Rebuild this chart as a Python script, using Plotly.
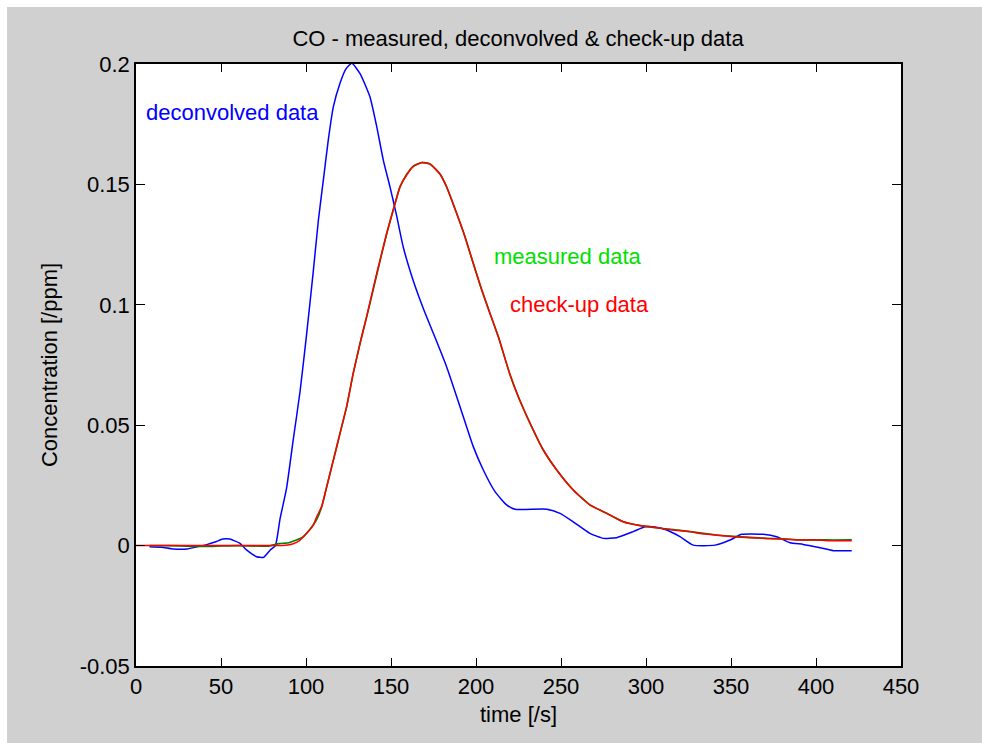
import plotly.graph_objects as go

# ---- data ----
deconv_t = [8, 15, 22, 30, 36, 42, 47, 51, 55, 61, 65, 71, 75, 79, 82, 84.7, 88.6, 92.5, 96.5,
            100.4, 104.3, 107.3, 110.2, 113.1, 116.1, 120, 123.5, 127, 131.8, 137.6,
            141.6, 145.5, 149.4, 153.3, 157.2, 163.1, 169, 174.9, 182.7, 190.6, 198.4, 204.3,
            211.2, 218, 222.9, 241.6, 249.4, 257.2, 267, 274.9, 282.7, 292.5, 299.4, 304.3,
            312.2, 320, 327.8, 340.6, 349.4, 356.3, 369, 376.9, 384.7, 392.5, 402.4, 410.2, 421]
deconv_y = [-0.0005, -0.0007, -0.0014, -0.0014, -0.0005, 0.0005, 0.0016, 0.0027, 0.0027, 0.001,
            -0.0018, -0.0046, -0.0049, -0.0018, 0.0, 0.011, 0.024, 0.044, 0.064,
            0.088, 0.114, 0.1352, 0.1518, 0.1684, 0.1823, 0.192, 0.198, 0.2003, 0.196,
            0.1864, 0.174, 0.160, 0.149, 0.137, 0.124, 0.110, 0.0985, 0.0882, 0.0743, 0.0577,
            0.0411, 0.0314, 0.0224, 0.0169, 0.0151, 0.0151, 0.0134, 0.0099, 0.0051, 0.003,
            0.0033, 0.0058, 0.0078, 0.0078, 0.0065, 0.0037, 0.0002, 0.0002, 0.0023, 0.0047,
            0.0047, 0.0037, 0.0012, 0.0005, -0.0009, -0.0021, -0.0021]

measured_t = [8, 20, 33, 45, 60, 78, 84, 90, 94, 98, 102, 106, 109.2, 112.2, 116.1, 120, 123.9,
              127.8, 131.8, 135.7, 138.6, 141.6, 147.5, 152.4, 155.3, 159.2, 163.1, 168, 172.9,
              178.8, 182.7, 188.6, 193.5, 198.4, 203.4, 208.2, 213.1, 220, 224.9, 231.8, 239.6,
              247.5, 257.2, 267, 276.9, 286.6, 296.5, 306.3, 316, 325.9, 341.6, 351.4, 361.2,
              371, 380.8, 390.6, 400.4, 410.2, 421]
measured_y = [0.0, 0.0, -0.0003, -0.0003, 0.0, -0.0002, 0.0008, 0.0012, 0.0022, 0.0035, 0.0065,
              0.0105, 0.016, 0.0245, 0.0355, 0.0466, 0.0577, 0.0716, 0.084, 0.0951, 0.1035,
              0.1125, 0.1297, 0.1422, 0.149, 0.1541, 0.1576, 0.1591, 0.1585, 0.1543, 0.149,
              0.138, 0.1283, 0.1172, 0.1061, 0.0965, 0.0868, 0.071, 0.0618, 0.0508, 0.0397,
              0.0314, 0.0231, 0.0169, 0.0134, 0.0099, 0.0083, 0.0074, 0.0066, 0.0058, 0.0044,
              0.0038, 0.0034, 0.003, 0.0028, 0.0024, 0.0024, 0.0023, 0.0024]

checkup_t = [0, 20, 40, 60, 80, 88, 92.5, 96, 100.4, 104.3, 106.3, 109.2, 112.2, 116.1, 120, 123.9,
             127.8, 131.8, 135.7, 138.6, 141.6, 147.5, 152.4, 155.3, 159.2, 163.1, 168, 172.9,
             178.8, 182.7, 188.6, 193.5, 198.4, 203.4, 208.2, 213.1, 220, 224.9, 231.8, 239.6,
             247.5, 257.2, 267, 276.9, 286.6, 296.5, 306.3, 316, 325.9, 331.8, 341.6, 351.4,
             361.2, 371, 380.8, 390.6, 400.4, 410.2, 421]
checkup_y = [0.0, 0.0, 0.0, 0.0, 0.0, 0.0001, 0.0008, 0.002, 0.0051, 0.0085, 0.012, 0.0162,
             0.0245, 0.0355, 0.0466, 0.0577, 0.0716, 0.084, 0.0951, 0.104, 0.113, 0.1297, 0.142,
             0.149, 0.1539, 0.1574, 0.159, 0.1585, 0.1543, 0.149, 0.138, 0.1283, 0.1172, 0.1061,
             0.0965, 0.0868, 0.071, 0.0618, 0.0508, 0.0397, 0.0314, 0.0231, 0.0169, 0.0134,
             0.0099, 0.0083, 0.0074, 0.0065, 0.0058, 0.005, 0.0043, 0.0037, 0.0033, 0.003,
             0.0027, 0.0023, 0.0023, 0.002, 0.002]

x_ticks = [0, 50, 100, 150, 200, 250, 300, 350, 400, 450]
x_tick_text = ["0", "50", "100", "150", "200", "250", "300", "350", "400", "450"]
y_ticks = [-0.05, 0, 0.05, 0.1, 0.15, 0.2]
y_tick_text = ["-0.05", "0", "0.05", "0.1", "0.15", "0.2"]

labels = ["deconvolved data", "measured data", "check-up data"]
label_x = [4.7, 209.4, 218.8]
label_y = [0.180, 0.120, 0.1003]
label_colors = ["#0000ff", "#00e000", "#ff0000"]

FONT = "Liberation Sans, Arial, sans-serif"
GRAY = "#d0d0d0"
FS = 22

fig = go.Figure()
fig.add_trace(go.Scatter(x=deconv_t, y=deconv_y, mode="lines",
                         line=dict(color="#0000ff", width=1.5, shape="spline", smoothing=0.5),
                         name="deconvolved data"))
fig.add_trace(go.Scatter(x=measured_t, y=measured_y, mode="lines",
                         line=dict(color="#008000", width=1.7, shape="spline", smoothing=0.5),
                         name="measured data"))
fig.add_trace(go.Scatter(x=checkup_t, y=checkup_y, mode="lines",
                         line=dict(color="#ff0000", width=1.5, shape="spline", smoothing=0.5),
                         name="check-up data"))

for txt, lx, ly, c in zip(labels, label_x, label_y, label_colors):
    fig.add_annotation(x=lx, y=ly, xref="x", yref="y", text=txt, showarrow=False,
                       xanchor="left", yanchor="middle",
                       font=dict(family=FONT, size=FS, color=c))

# white outer border around the gray figure
fig.add_shape(type="rect", xref="paper", yref="paper", x0=-0.5, x1=1.5,
              y0=(666 - 7) / 602, y1=1.3, fillcolor="white", line=dict(width=0), layer="above")
fig.add_shape(type="rect", xref="paper", yref="paper", x0=-0.5, x1=(7 - 136) / 765,
              y0=-0.5, y1=1.5, fillcolor="white", line=dict(width=0), layer="above")

axis_common = dict(showgrid=False, zeroline=False, showline=True, linecolor="black",
                   linewidth=1.5, mirror="ticks", ticks="inside", tickcolor="black",
                   tickwidth=1.2, tickfont=dict(family=FONT, size=FS, color="black"))

fig.update_layout(
    width=982, height=743,
    margin=dict(l=136, r=81, t=64, b=77),
    paper_bgcolor=GRAY, plot_bgcolor="white",
    showlegend=False,
    title=dict(text="CO - measured, deconvolved & check-up data", x=0.5275, xref="container",
               y=1 - 38 / 743, yref="container", xanchor="center", yanchor="middle",
               font=dict(family=FONT, size=FS, color="black")),
    xaxis=dict(range=[0, 450], tickvals=x_ticks, ticktext=x_tick_text, ticklen=8,
               title=dict(text="time [/s]", font=dict(family=FONT, size=FS, color="black"),
                          standoff=8),
               **axis_common),
    yaxis=dict(range=[-0.05, 0.2], tickvals=y_ticks, ticktext=y_tick_text, ticklen=9,
               title=dict(text="Concentration [/ppm]", font=dict(family=FONT, size=FS, color="black"),
                          standoff=16),
               **axis_common),
)

fig.write_html("out.html")
